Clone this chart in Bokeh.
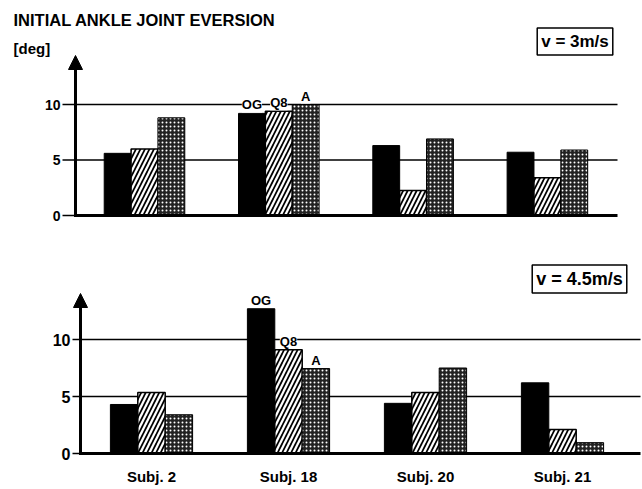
from bokeh.plotting import figure
from bokeh.models import (Arrow, NormalHead, Label, LabelSet, ColumnDataSource, Range1d)
from bokeh.core.properties import value
from bokeh.layouts import column
from bokeh.embed import file_html
from bokeh.resources import INLINE

# ---------------- data ----------------
subjects = ["Subj. 2", "Subj. 18", "Subj. 20", "Subj. 21"]
conditions = ["OG", "Q8", "A"]
v3_og = [5.6, 9.2, 6.3, 5.7]
v3_q8 = [6.0, 9.4, 2.25, 3.4]
v3_a = [8.8, 10.0, 6.9, 5.9]
v45_og = [4.3, 12.7, 4.4, 6.2]
v45_q8 = [5.35, 9.1, 5.35, 2.1]
v45_a = [3.4, 7.45, 7.5, 0.95]
speeds = ["v = 3m/s", "v = 4.5m/s"]
y_ticks = [0, 5, 10]
labelled_subject = 1  # Subj. 18 carries the condition labels
title_text = "INITIAL ANKLE JOINT EVERSION"
unit_text = "[deg]"

FONT = "Liberation Sans"
OFFSETS = [-0.2, 0.0, 0.2]
BAR_W = 0.2
W = 642


def panel(series, fig_top, height, x0_px, x_step, y0_px, y_step,
          axis_px, tick_len, line_end_px, arrow_top_px,
          speed_text, speed_c, speed_font, tick_font, show_xlabels):
    """Pixel arguments are page pixels; dx/dy convert them to data units."""
    dx = lambda px: (px - x0_px) / x_step
    dy = lambda py: (y0_px - py) / y_step
    p = figure(width=W, height=height, output_backend="svg", toolbar_location=None,
               x_range=Range1d(dx(0), dx(W)),
               y_range=Range1d(dy(fig_top + height), dy(fig_top)),
               x_axis_location=None, y_axis_location=None, min_border=0)
    p.outline_line_color = None
    p.background_fill_color = "white"
    p.grid.visible = False

    ax_x = dx(axis_px)
    t0 = dx(axis_px - tick_len)
    x_end = dx(line_end_px)
    tip = dy(arrow_top_px)

    # grid lines (with their tick stubs) at the y tick values
    gl = [t for t in y_ticks if t != 0]
    p.segment(x0=[t0] * len(gl), x1=[x_end] * len(gl), y0=gl, y1=gl,
              line_color="black", line_width=1.3)

    xs = list(range(len(subjects)))
    styles = [
        dict(fill_color="black", line_color="black"),
        dict(fill_color="white", line_color="black", line_width=1.5,
             hatch_pattern="/", hatch_color="black", hatch_scale=9, hatch_weight=1.7),
        dict(fill_color="#222222", line_color="black",
             hatch_pattern=".", hatch_color="white", hatch_scale=4, hatch_weight=0.9),
    ]
    for vals, off, st in zip(series, OFFSETS, styles):
        src = ColumnDataSource(dict(x=[x + off for x in xs], top=vals))
        p.vbar(x="x", top="top", bottom=0, width=BAR_W, source=src, **st)

    # baseline (x axis) with the 0 tick stub
    p.segment(x0=[t0], x1=[ax_x], y0=[0], y1=[0], line_color="black", line_width=1.3)
    p.segment(x0=[ax_x], x1=[x_end], y0=[0], y1=[0], line_color="black", line_width=3)
    # y axis with arrow head
    p.add_layout(Arrow(end=NormalHead(size=14, fill_color="black", line_color="black"),
                       x_start=ax_x, y_start=dy(y0_px + 1.5), x_end=ax_x, y_end=tip,
                       line_width=3, line_color="black"))

    # y tick labels
    p.text(x=[ax_x] * len(y_ticks), y=y_ticks, text=[str(t) for t in y_ticks],
           x_offset=-(tick_len + 2), text_align="right", text_baseline="middle",
           text_font=value(FONT), text_font_style="bold", text_font_size=tick_font,
           text_color="black")

    if show_xlabels:
        p.text(x=xs, y=[0] * len(xs), text=subjects, y_offset=23,
               text_align="center", text_baseline="middle",
               text_font=value(FONT), text_font_style="bold", text_font_size="15px",
               text_color="black")

    lab = ColumnDataSource(dict(
        x=[labelled_subject + off for off in OFFSETS],
        y=[s[labelled_subject] for s in series],
        t=conditions))
    p.add_layout(LabelSet(x="x", y="y", text="t", source=lab, y_offset=1,
                          text_align="center", text_baseline="bottom",
                          text_font=value(FONT), text_font_style="bold",
                          text_font_size="13px", text_color="black",
                          background_fill_color="white"))

    p.add_layout(Label(x=dx(speed_c[0]), y=dy(speed_c[1]), text=speed_text,
                       text_align="center", text_baseline="middle",
                       text_font=FONT, text_font_style="bold", text_font_size=speed_font,
                       text_color="black",
                       border_line_color="black", border_line_width=1.5,
                       background_fill_color="white", padding=4))
    return p, dx, dy


top, tdx, tdy = panel([v3_og, v3_q8, v3_a], 0, 236, 144, 134.3, 215, 11.1,
                      75, 13, 617, 55, speeds[0], (574.5, 41), "17px", "14px", False)
top.add_layout(Label(x=tdx(13), y=tdy(19), text=title_text, text_baseline="middle",
                     text_font=FONT, text_font_style="bold", text_font_size="16.5px",
                     text_color="black"))
top.add_layout(Label(x=tdx(13), y=tdy(48), text=unit_text, text_baseline="middle",
                     text_font=FONT, text_font_style="bold", text_font_size="15px",
                     text_color="black"))

bottom, _, _ = panel([v45_og, v45_q8, v45_a], 236, 253, 151, 137.0, 453, 11.4,
                     80, 8, 640, 293, speeds[1], (579, 278.5), "18px", "16px", True)

layout = column(top, bottom)
open("out.html", "w").write(file_html(layout, INLINE))
